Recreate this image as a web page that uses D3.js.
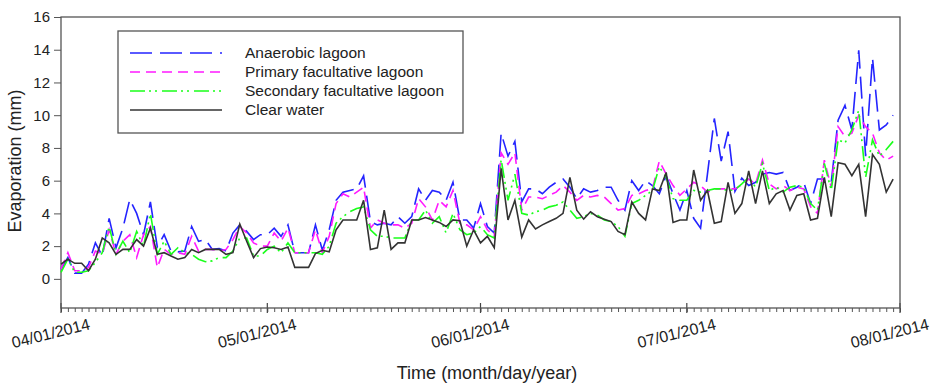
<!DOCTYPE html>
<html>
<head>
<meta charset="utf-8">
<script src="https://cdn.jsdelivr.net/npm/d3@7"></script>
<style>
body { margin: 0; background: #fff; }
text { font-family: "Liberation Sans", Arial, sans-serif; fill: #222; }
</style>
</head>
<body>
<svg width="934" height="390"></svg>
<script>
// daily evaporation (mm), 04/01/2014 .. 07/31/2014
var startDay = "04/01/2014";

var anaerobic = [
  0.6, 1.3, 0.35, 0.35, 0.9, 2.2, 1.4, 3.7, 1.9, 3.1,
  4.85, 4.0, 2.7, 4.7, 1.95, 2.7, 1.7, 1.65, 1.7, 3.2,
  2.3, 2.4, 1.8, 1.85, 1.7, 2.8, 3.3, 2.9, 2.4, 2.7,
  2.7, 3.1, 2.6, 3.3, 1.6, 1.6, 1.6, 3.3, 1.75, 3.0,
  4.8, 5.3, 5.4, 5.5, 6.3, 3.5, 3.3, 3.4, 3.3, 3.8,
  3.4, 3.8, 5.5, 4.8, 5.4, 5.3, 4.8, 5.9, 3.6, 3.6,
  3.1, 4.6, 3.2, 2.8, 8.9, 7.5, 8.4, 4.7, 5.5, 5.5,
  5.2, 5.6, 5.9, 6.1, 5.6, 4.9, 5.5, 5.3, 5.4, 5.6,
  5.6, 4.8, 4.2, 6.0, 5.4, 6.0, 5.7, 5.2, 6.3, 5.2,
  4.2, 5.4, 3.7, 3.1, 6.4, 9.8, 7.2, 9.0, 5.35, 6.15,
  5.7, 5.9, 6.4, 6.5, 6.4, 6.5, 5.4, 5.6, 5.9, 4.6,
  6.1, 6.1, 5.9, 9.7, 10.6, 9.1, 13.96, 7.5, 13.5, 9.1,
  9.4, 10.0
];

var primary = [
  0.6, 1.6, 0.5, 0.5, 0.7, 1.7, 1.5, 3.0, 1.5, 2.3,
  2.7, 1.3, 2.7, 3.2, 0.7, 1.8, 1.5, 1.6, 1.5, 2.6,
  1.7, 1.8, 1.8, 1.7, 1.8, 2.4, 3.2, 2.8, 2.2, 2.0,
  2.0, 2.8, 2.3, 3.1, 1.6, 1.6, 1.6, 3.0, 1.6, 2.6,
  4.6, 5.2, 5.0, 5.3, 5.6, 3.1, 3.6, 3.4, 3.3, 3.3,
  3.1, 3.4, 4.9, 4.4, 3.6, 4.8, 4.4, 5.4, 3.4, 3.3,
  3.0, 3.8, 3.0, 2.6, 7.7, 7.0, 7.7, 4.2, 5.0, 5.0,
  4.9, 5.1, 5.3, 5.7, 5.3, 4.8, 5.1, 5.0, 5.1, 5.0,
  4.6, 4.2, 4.3, 5.1, 5.2, 5.4, 5.5, 7.2, 6.4, 5.7,
  5.1, 5.5, 5.9, 5.7, 5.3, 5.5, 5.5, 5.5, 5.5, 5.75,
  6.1, 5.8, 7.25, 5.8, 5.5, 5.7, 5.4, 5.6, 5.5, 4.4,
  4.0, 7.25, 5.6, 9.3, 8.7, 8.9, 10.0, 9.3, 8.9, 7.7,
  7.25, 7.5
];

var secondary = [
  0.4, 1.2, 0.4, 0.4, 0.5, 1.0, 1.6, 3.2, 1.5, 2.3,
  1.6, 2.9, 2.0, 4.0, 1.5, 2.3, 1.5, 1.9, 1.6, 1.5,
  1.2, 1.05, 1.1, 1.3, 1.3, 1.7, 2.5, 2.5, 1.4, 1.4,
  1.8, 2.0, 1.6, 2.2, 1.6, 1.6, 1.6, 1.6, 1.5, 2.0,
  3.4, 3.8, 4.1, 4.3, 4.4, 3.0, 2.6, 2.6, 2.5, 2.5,
  2.5, 3.6, 3.6, 4.2, 3.4, 3.8, 2.8, 4.0, 3.0, 2.7,
  2.8, 3.2, 2.7, 2.5, 7.3, 4.8, 6.4, 4.0, 3.9, 4.1,
  4.2, 4.4, 4.5, 4.7, 4.2, 3.7, 3.8, 4.0, 3.9, 3.6,
  3.5, 3.2, 2.6, 4.6, 4.8, 5.1, 5.4, 6.85, 6.2, 4.9,
  4.8, 4.8, 5.4, 5.3, 5.4, 5.5, 5.5, 5.4, 5.45, 5.8,
  6.2, 5.6, 7.05, 5.4, 5.6, 5.3, 5.6, 5.7, 5.6, 4.6,
  4.2, 7.05, 5.4, 8.5, 8.3, 9.1, 10.3, 6.2, 8.5, 7.5,
  7.9, 8.4
];

var clearWater = [
  0.9, 1.2, 0.95, 0.95, 0.5, 1.2, 2.5, 2.2, 1.5, 1.8,
  1.8, 2.4, 2.0, 3.1, 1.5, 1.6, 1.4, 1.2, 1.3, 1.8,
  1.6, 1.8, 1.8, 1.8, 1.5, 1.6, 3.35, 2.3, 1.3, 1.85,
  1.95, 1.9, 1.8, 1.95, 0.7, 0.7, 0.7, 1.55, 1.75, 1.65,
  3.0, 3.6, 3.6, 3.6, 4.8, 1.8, 1.9, 4.2, 1.8, 2.2,
  2.2, 3.6, 3.6, 3.75, 3.6, 3.45, 3.2, 3.6, 3.55, 2.0,
  3.0, 2.2, 2.6, 1.9, 6.75, 3.6, 4.8, 2.55, 3.6, 3.05,
  3.3, 3.5, 3.7, 4.0, 6.2, 4.2, 3.65, 4.1, 3.8, 3.65,
  3.5, 2.9, 2.7, 4.7, 4.0, 3.6, 5.5, 5.4, 6.5, 3.45,
  3.6, 3.6, 6.65, 4.8, 5.4, 3.4, 3.5, 5.9, 4.0, 4.6,
  6.6, 4.6, 6.6, 4.6, 5.2, 5.4, 4.2, 5.1, 5.2, 3.6,
  3.7, 6.2, 3.8, 7.1, 7.0, 6.3, 7.0, 3.8, 7.6, 7.0,
  5.3, 6.1
];

var seriesNames = ["Anaerobic lagoon", "Primary facultative lagoon", "Secondary facultative lagoon", "Clear water"];
var seriesColors = ["#2424ff", "#ff1aff", "#1aff1a", "#333333"];
var seriesDashes = ["22,8", "10,6", "15,4,2,4,2,5", null];
var monthLabels = ["04/01/2014", "05/01/2014", "06/01/2014", "07/01/2014", "08/01/2014"];
var yTicks = [0, 2, 4, 6, 8, 10, 12, 14, 16];

var svg = d3.select("svg"),
    margin = {top: 17, right: 34, bottom: 82, left: 61},
    width = 934 - margin.left - margin.right,
    height = 390 - margin.top - margin.bottom,
    g = svg.append("g").attr("transform", "translate(" + margin.left + "," + margin.top + ")");

var parse = d3.timeParse("%m/%d/%Y");
var day0 = parse(startDay);
var months = monthLabels.map(parse);

var x = d3.scaleTime()
    .domain([months[0], months[months.length - 1]])
    .range([0, width]);

var y = d3.scaleLinear()
    .domain([-1.78, 16])
    .range([height, 0]);

var dateAt = function (i) { return d3.timeDay.offset(day0, i); };

// y axis
var yAxis = g.append("g")
    .call(d3.axisLeft(y).tickValues(yTicks).tickSize(7).tickPadding(4));
yAxis.select(".domain").remove();
yAxis.selectAll("line").attr("stroke", "#555");
yAxis.selectAll("text")
    .style("font-size", "15px")
    .attr("fill", "#222");

// day ticks below axis
var xMinor = g.append("g")
    .attr("transform", "translate(0," + height + ")")
    .call(d3.axisBottom(x).ticks(d3.timeDay.every(1)).tickSize(4).tickFormat(""));
xMinor.select(".domain").remove();
xMinor.selectAll("line").attr("stroke", "#555");

// month ticks
g.selectAll(".month-tick")
    .data(months)
    .enter().append("line")
    .attr("class", "month-tick")
    .attr("x1", function (d) { return x(d); })
    .attr("x2", function (d) { return x(d); })
    .attr("y1", height - 5)
    .attr("y2", height + 5)
    .attr("stroke", "#444")
    .attr("stroke-width", 1.2);

g.selectAll(".month-label")
    .data(months)
    .enter().append("text")
    .attr("class", "month-label")
    .attr("text-anchor", "end")
    .attr("transform", function (d) { return "translate(" + (x(d) + 30) + "," + (height + 21) + ") rotate(-14)"; })
    .style("font-size", "16px")
    .text(function (d, i) { return monthLabels[i]; });

// frame
g.append("rect")
    .attr("width", width)
    .attr("height", height)
    .attr("fill", "none")
    .attr("stroke", "#555")
    .attr("stroke-width", 1.3);

// series
var line = d3.line()
    .x(function (d, i) { return x(dateAt(i)); })
    .y(function (d) { return y(d); });

var allSeries = [anaerobic, primary, secondary, clearWater];

g.selectAll(".series")
    .data(allSeries)
    .enter().append("path")
    .attr("class", "series")
    .attr("d", line)
    .attr("fill", "none")
    .attr("stroke", function (d, i) { return seriesColors[i]; })
    .attr("stroke-width", 1.6)
    .attr("stroke-dasharray", function (d, i) { return seriesDashes[i]; });

// legend
var legend = svg.append("g").attr("transform", "translate(118,31)");
legend.append("rect")
    .attr("width", 345)
    .attr("height", 102)
    .attr("fill", "#fff")
    .attr("stroke", "#555")
    .attr("stroke-width", 1.3);

var row = legend.selectAll(".row")
    .data(seriesNames)
    .enter().append("g")
    .attr("class", "row")
    .attr("transform", function (d, i) { return "translate(0," + (22 + i * 19) + ")"; });

row.append("line")
    .attr("x1", 12).attr("x2", 104)
    .attr("stroke", function (d, i) { return seriesColors[i]; })
    .attr("stroke-width", 1.6)
    .attr("stroke-dasharray", function (d, i) { return seriesDashes[i]; });

row.append("text")
    .attr("x", 127)
    .attr("y", 5)
    .style("font-size", "15.5px")
    .text(function (d) { return d; });

// axis titles
svg.append("text")
    .attr("text-anchor", "middle")
    .attr("transform", "translate(21," + (margin.top + y(7.2)) + ") rotate(-90)")
    .style("font-size", "18px")
    .text("Evaporation (mm)");

svg.append("text")
    .attr("text-anchor", "middle")
    .attr("x", 487)
    .attr("y", 379)
    .style("font-size", "18px")
    .text("Time (month/day/year)");
</script>
</body>
</html>
